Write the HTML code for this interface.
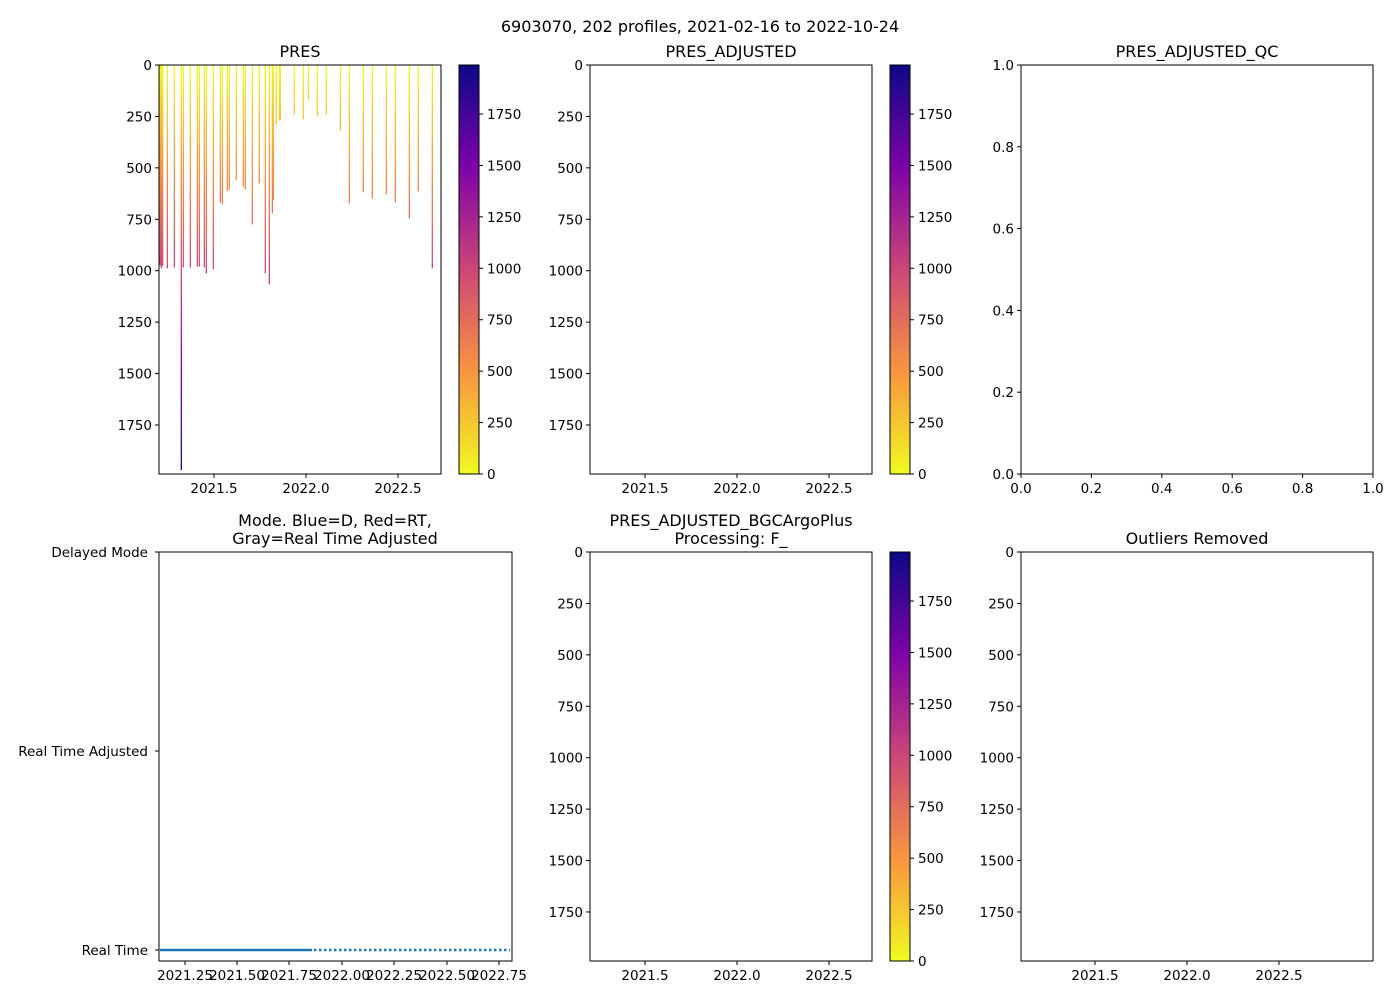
<!DOCTYPE html>
<html><head><meta charset="utf-8"><style>
html,body{margin:0;padding:0;background:#fff;}
svg{display:block;font-family:"DejaVu Sans","Liberation Sans",sans-serif;}
</style></head><body>
<svg id="s" width="1400" height="1000" xmlns="http://www.w3.org/2000/svg">
<defs>
<linearGradient id="g1" gradientUnits="userSpaceOnUse" x1="0" y1="65" x2="0" y2="474">
<stop offset="0" stop-color="#f0f921"/><stop offset="0.25" stop-color="#f89540"/><stop offset="0.5" stop-color="#cc4778"/><stop offset="0.75" stop-color="#7e03a8"/><stop offset="1" stop-color="#0d0887"/>
</linearGradient>
<linearGradient id="gc" x1="0" y1="0" x2="0" y2="1">
<stop offset="0" stop-color="#0d0887"/><stop offset="0.25" stop-color="#7e03a8"/><stop offset="0.5" stop-color="#cc4778"/><stop offset="0.75" stop-color="#f89540"/><stop offset="1" stop-color="#f0f921"/>
</linearGradient>
</defs>
<text x="700" y="32" font-size="16" text-anchor="middle">6903070, 202 profiles, 2021-02-16 to 2022-10-24</text>
</svg>
<script>
const s=document.getElementById('s');let h='';
function T(x,y,t,a,fs){h+=`<text x="${x}" y="${y}" font-size="${fs||13.5}" text-anchor="${a||'middle'}">${t}</text>`;}
function L(x1,y1,x2,y2,c,w,extra){h+=`<line x1="${x1}" y1="${y1}" x2="${x2}" y2="${y2}" stroke="${c||'#000'}" stroke-width="${w||1}" ${extra||''}/>`;}
function box(x,y,w,hh){h+=`<rect x="${x}" y="${y}" width="${w}" height="${hh}" fill="none" stroke="#000" stroke-width="1"/>`;}
const pt=[0,250,500,750,1000,1250,1500,1750];
function presY(top,p){return top+p*0.2057;}
function yaxis(x,top){pt.forEach(p=>{let y=presY(top,p);L(x-4,y,x,y);T(x-7,y+5,p,'end');});}
function xaxisYears(x0,bot){[[x0+55,'2021.5'],[x0+147,'2022.0'],[x0+239,'2022.5']].forEach(([x,t])=>{L(x,bot,x,bot+4);T(x,bot+19,t);});}
function cbar(x,top){h+=`<rect x="${x}" y="${top}" width="20" height="409" fill="url(#gc)"/>`;box(x,top,20,409);pt.forEach(p=>{let y=top+409-p*0.2057;L(x+20,y,x+24,y);T(x+28,y+5,p,'start');});}
// PRES profiles
const pr=[[30,630],[31,628],[32,632],[33,625],[34,640],[35,630],[36,628],[37,633],[38,630],[52,640],[73,637],[94,1245],[100,637],[121,637],[142,635],[148,635],[163,637],[169,655],[190,643],[211,442],[217,448],[232,408],[238,403],[259,376],[280,395],[286,403],[307,508],[328,385],[346,655],[358,688],[367,475],[370,436],[379,208],[388,196],[391,196],[433,178],[460,193],[475,136],[502,184],[529,178],[571,226],[598,445],[640,412],[667,430],[709,418],[736,442],[778,490],[805,409],[847,640]];
pr.forEach(([zx,zy])=>{let x=150+zx/3;L(x,65,x,55+zy/3,'url(#g1)',1.3);});
// panel 1
box(159,65,282,409);yaxis(159,65);xaxisYears(159,474);T(300,57,'PRES','middle',16);cbar(459,65);
// panel 2
box(590,65,282,409);yaxis(590,65);xaxisYears(590,474);T(731,57,'PRES_ADJUSTED','middle',16);cbar(890,65);
// panel 3
box(1021,65,352,409);T(1197,57,'PRES_ADJUSTED_QC','middle',16);
[0,0.2,0.4,0.6,0.8,1.0].forEach((v,i)=>{let y=474-v*409;L(1017,y,1021,y);T(1014,y+5,v.toFixed(1),'end');let x=1021+v*352;L(x,474,x,478);T(x,493,v.toFixed(1));});
// bottom-left
box(159,552,353,409);T(335,526,'Mode. Blue=D, Red=RT,','middle',16);T(335,544,'Gray=Real Time Adjusted','middle',16);
[[552,'Delayed Mode'],[751,'Real Time Adjusted'],[950,'Real Time']].forEach(([y,t])=>{L(155,y,159,y);T(148,y+5,t,'end');});
[185,237,289,342,394,447,499].forEach((x,i)=>{L(x,961,x,965);T(x,980,(2021.25+0.25*i).toFixed(2));});
L(160,950,312,950,'#1f77b4',2.5);L(314,950,510,950,'#1f77b4',2.5,'stroke-dasharray="2.5 2.5"');
// bottom-mid
box(590,552,282,409);yaxis(590,552);xaxisYears(590,961);T(731,526,'PRES_ADJUSTED_BGCArgoPlus','middle',16);T(731,544,'Processing: F_','middle',16);cbar(890,552);
// bottom-right
box(1021,552,352,409);yaxis(1021,552);[[1095,'2021.5'],[1187,'2022.0'],[1279,'2022.5']].forEach(([x,t])=>{L(x,961,x,965);T(x,980,t);});T(1197,544,'Outliers Removed','middle',16);
s.insertAdjacentHTML('beforeend',h);
</script>
</body></html>
